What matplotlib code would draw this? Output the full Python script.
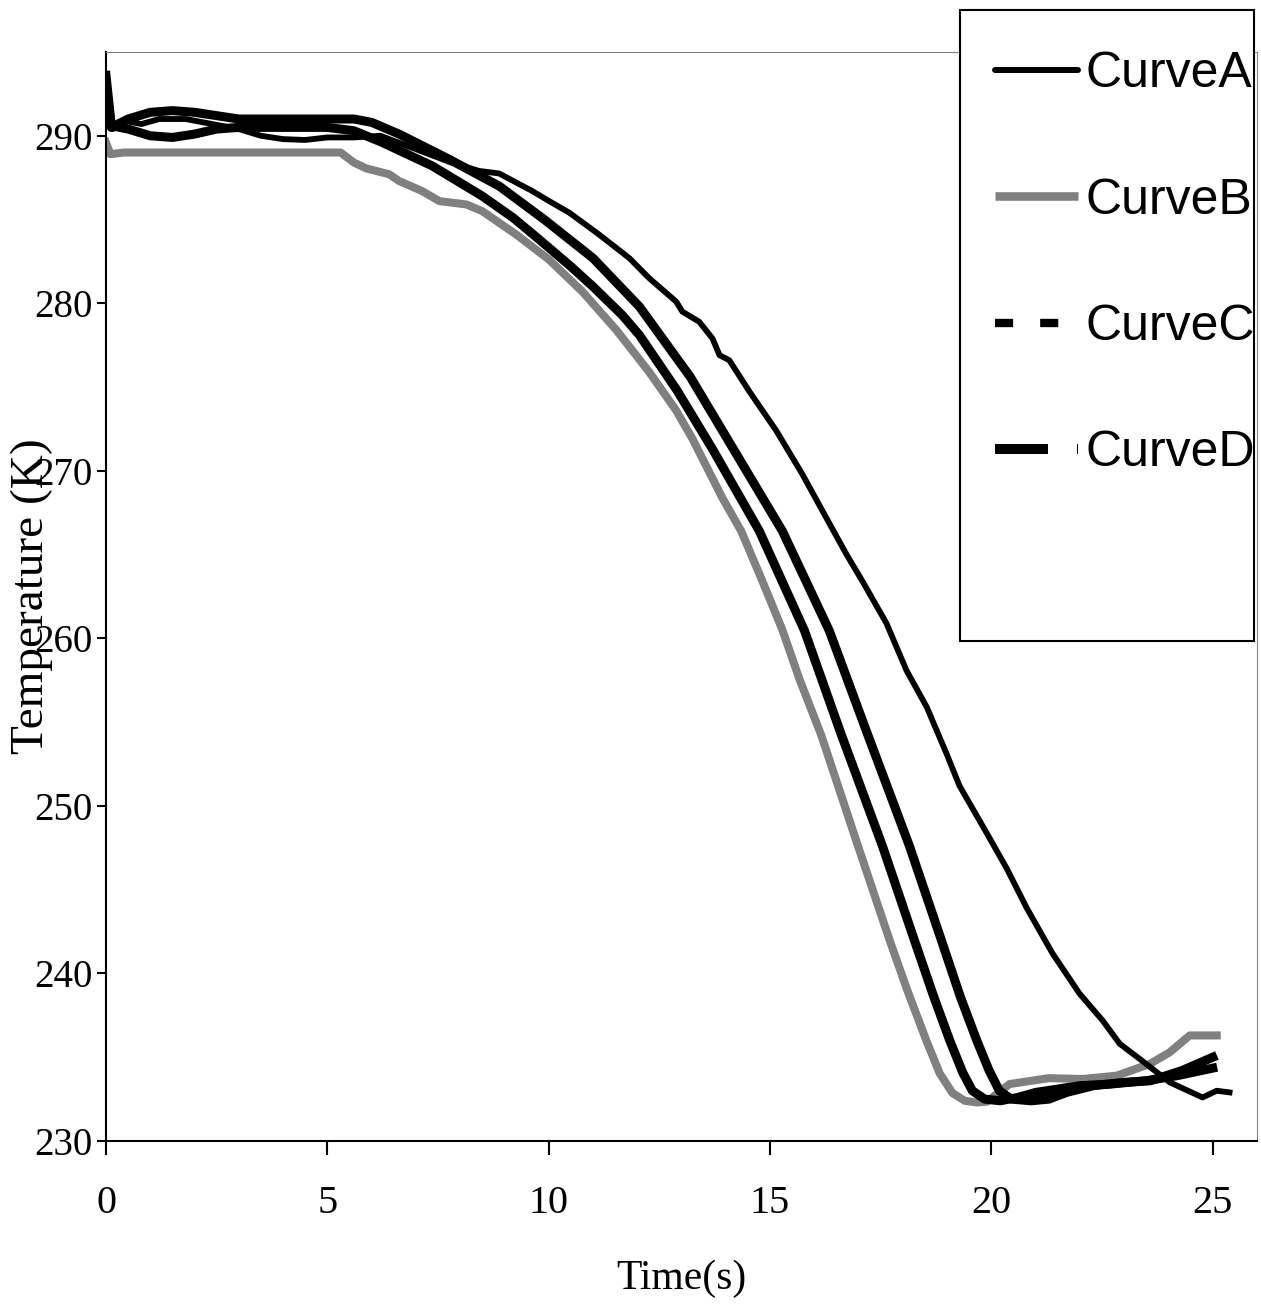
import matplotlib
matplotlib.use("Agg")
import matplotlib.pyplot as plt
from matplotlib.lines import Line2D
from matplotlib.patches import Rectangle

# Curve A (thin black)
time_a = [0.0, 0.15, 0.4, 0.8, 1.2, 1.8, 2.4, 3.0, 3.5, 4.0, 4.5, 5.0, 5.6, 6.2, 7.0, 7.8,
          8.43, 8.88, 9.63, 10.01, 10.47, 11.14, 11.82, 12.27, 12.88, 13.02, 13.4, 13.7,
          13.86, 14.08, 14.53, 15.14, 15.73, 16.27, 16.73, 17.09, 17.63, 18.08, 18.54,
          18.99, 19.28, 19.89, 20.34, 20.8, 21.38, 21.99, 22.51, 22.9, 23.35, 24.03,
          24.77, 25.09, 25.38]
temp_a = [291.5, 290.4, 290.9, 290.7, 291.0, 291.0, 290.7, 290.4, 290.0, 289.8, 289.75, 289.9,
          289.9, 290.0, 289.2, 288.4, 287.9, 287.75, 286.7, 286.1, 285.4, 284.1, 282.7,
          281.5, 280.1, 279.5, 278.9, 277.9, 276.9, 276.6, 274.75, 272.4, 269.8, 267.2,
          265.0, 263.4, 260.9, 258.1, 255.9, 253.1, 251.2, 248.4, 246.3, 243.9, 241.2,
          238.8, 237.2, 235.8, 234.9, 233.5, 232.6, 233.0, 232.9]

# Curve B (grey)
time_b = [0.0, 0.1, 0.4, 2.0, 4.0, 5.3, 5.6, 5.88, 6.4, 6.62, 7.14, 7.53, 8.14, 8.5, 9.27,
          10.01, 10.76, 11.53, 12.27, 12.88, 13.25, 13.92, 14.35, 14.83, 15.28, 15.66,
          16.16, 16.95, 17.7, 18.1, 18.53, 18.83, 19.12, 19.4, 19.67, 19.9, 20.41, 21.3,
          22.06, 22.83, 23.58, 24.03, 24.48, 25.09]
temp_b = [289.6, 288.9, 289.0, 289.0, 289.0, 289.0, 288.4, 288.05, 287.7, 287.3, 286.7,
          286.1, 285.9, 285.5, 284.1, 282.6, 280.7, 278.4, 275.9, 273.6, 271.9, 268.4,
          266.4, 263.4, 260.5, 257.6, 254.2, 247.9, 242.0, 239.0, 236.0, 234.05, 232.86,
          232.4, 232.3, 232.35, 233.4, 233.75, 233.7, 233.9, 234.6, 235.3, 236.3, 236.3]

# Curve C (black, dotted in legend)
time_c = [0.0, 0.12, 0.5, 1.0, 1.5, 2.0, 2.5, 3.0, 4.0, 5.0, 5.6, 6.24, 7.37, 8.5, 9.2,
          9.79, 10.5, 11.0, 11.66, 12.05, 12.9, 13.7, 14.76, 15.78, 16.59, 17.54, 18.22,
          18.7, 19.06, 19.35, 19.57, 19.85, 20.2, 20.6, 21.0, 21.5, 22.0, 22.7, 23.5, 24.2,
          25.0]
temp_c = [293.6, 290.6, 290.4, 290.0, 289.9, 290.1, 290.4, 290.5, 290.5, 290.5, 290.3,
          289.6, 288.2, 286.4, 285.1, 283.8, 282.2, 281.0, 279.3, 278.1, 274.8, 271.3,
          266.4, 260.45, 254.4, 247.6, 242.3, 238.6, 236.0, 234.1, 233.0, 232.5, 232.4,
          232.6, 232.9, 233.1, 233.3, 233.4, 233.6, 233.9, 234.35]

# Curve D (black, dashed in legend)
time_d = [0.0, 0.12, 0.5, 1.0, 1.5, 2.0, 2.5, 3.0, 4.0, 5.0, 5.6, 6.0, 6.62, 7.75, 8.88,
          9.9, 11.0, 12.05, 13.2, 14.24, 15.28, 16.34, 17.2, 18.15, 18.83, 19.3, 19.67,
          19.95, 20.18, 20.45, 20.9, 21.3, 21.7, 22.3, 23.0, 23.6, 24.3, 25.0]
temp_d = [293.0, 290.5, 291.0, 291.4, 291.5, 291.4, 291.2, 291.0, 291.0, 291.0, 291.0,
          290.8, 290.1, 288.6, 287.0, 285.0, 282.7, 279.8, 275.6, 271.0, 266.4, 260.45,
          254.3, 247.6, 242.3, 238.6, 236.0, 234.2, 233.0, 232.5, 232.4, 232.5, 232.9,
          233.3, 233.5, 233.6, 234.2, 235.0]

labels = ["CurveA", "CurveB", "CurveC", "CurveD"]
x_ticks = [0, 5, 10, 15, 20, 25]
y_ticks = [230, 240, 250, 260, 270, 280, 290]

serif = "Liberation Serif"

fig = plt.figure(figsize=(12.61, 13.06), dpi=100)
ax = fig.add_axes([106 / 1261, 165 / 1306, 1151 / 1261, 1089 / 1306])

ax.plot(time_b, temp_b, color="#808080", lw=5.8, solid_joinstyle="round", zorder=2)
ax.plot(time_c, temp_c, color="black", lw=6.5, solid_joinstyle="round", zorder=3)
ax.plot(time_d, temp_d, color="black", lw=6.5, solid_joinstyle="round", zorder=3)
ax.plot(time_a, temp_a, color="black", lw=4.2, solid_joinstyle="round", zorder=4)

ax.set_xlim(0, 26)
ax.set_ylim(230, 295)
ax.set_xticks(x_ticks)
ax.set_yticks(y_ticks)
ax.set_xticklabels([str(t) for t in x_ticks], fontfamily=serif, fontsize=29)
ax.set_yticklabels([str(t) for t in y_ticks], fontfamily=serif, fontsize=28)
ax.tick_params(axis="x", direction="out", length=10, width=1.5, pad=22)
ax.tick_params(axis="y", direction="out", length=6.5, width=1.5, pad=3)

for side in ["left", "bottom"]:
    ax.spines[side].set_linewidth(1.5)
    ax.spines[side].set_color("black")
for side in ["top", "right"]:
    ax.spines[side].set_linewidth(0.8)
    ax.spines[side].set_color("#808080")

ax.set_xlabel("Time(s)", fontfamily=serif, fontsize=30)
ax.set_ylabel("Temperature (K)", fontfamily=serif, fontsize=34)
ax.xaxis.set_label_coords(0.5, -0.109)
ax.yaxis.set_label_coords(-0.046, 0.5)

# legend box drawn separately (it has extra room at the bottom)
fig.patches.append(Rectangle((960 / 1261, 1 - 641 / 1306), 294 / 1261, 631 / 1306,
                             transform=fig.transFigure, facecolor="white",
                             edgecolor="black", lw=1.5, zorder=4))

handles = [
    Line2D([], [], color="black", lw=4.3, solid_capstyle="round"),
    Line2D([], [], color="#808080", lw=6.2, solid_capstyle="butt"),
    Line2D([], [], color="black", lw=6.0, linestyle=(0, (2.17, 3.25)), dash_capstyle="butt"),
    Line2D([], [], color="black", lw=7.2, linestyle=(0, (5.3, 2.9)), dash_capstyle="butt"),
]
fig.legend(handles, labels, loc="upper left", bbox_to_anchor=(995 / 1261, 1 - 51 / 1306),
           bbox_transform=fig.transFigure, frameon=False, borderpad=0, borderaxespad=0,
           handlelength=1.66, handletextpad=0.15, labelspacing=1.61,
           prop={"family": "Liberation Sans", "size": 36})

fig.savefig("out.png", dpi=100)
